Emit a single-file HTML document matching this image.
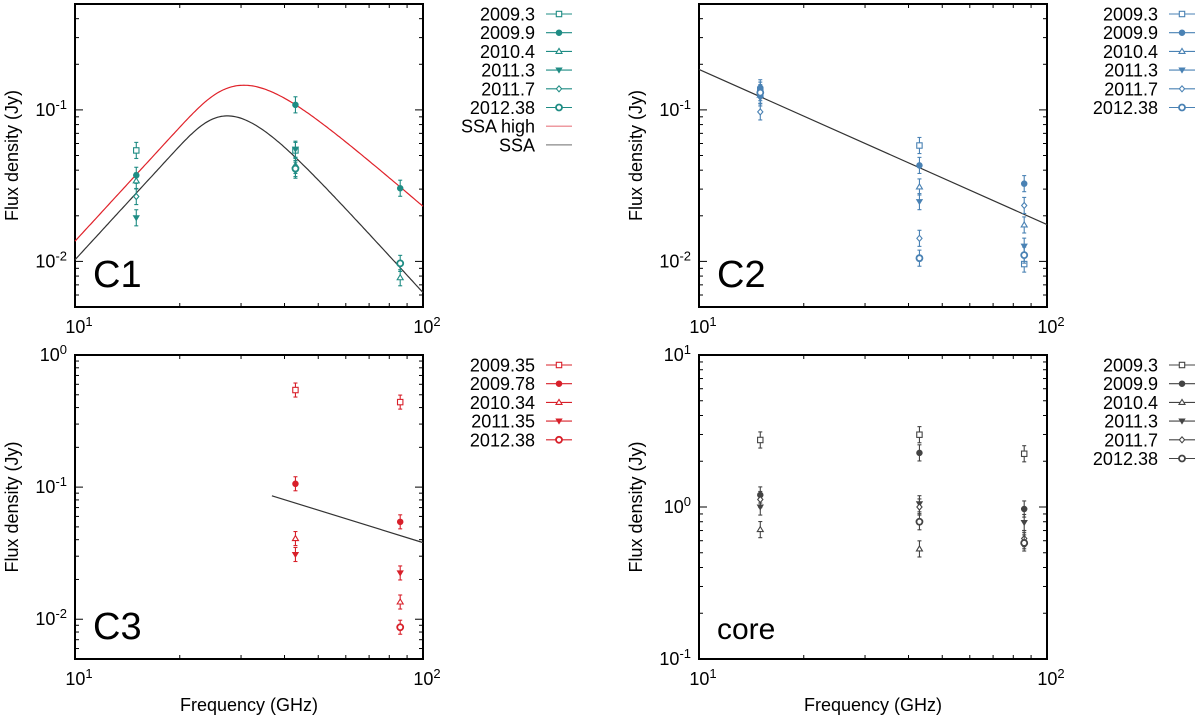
<!DOCTYPE html>
<html><head><meta charset="utf-8"><style>
html,body{margin:0;padding:0;background:#fff;}
svg{display:block;font-family:"Liberation Sans",sans-serif;}
</style></head><body>
<svg id="chart" width="1200" height="720" viewBox="0 0 1200 720" xmlns="http://www.w3.org/2000/svg"></svg>
<script>
// ---- data ----
const freqs = [15, 43, 86];
const c1Labels = ["2009.3","2009.9","2010.4","2011.3","2011.7","2012.38"];
const c1_2009_3 = [0.054, 0.054, null];
const c1_2009_9 = [0.037, 0.108, 0.0304];
const c1_2010_4 = [0.034, 0.043, 0.0078];
const c1_2011_3 = [0.0194, 0.055, null];
const c1_2011_7 = [0.0268, 0.040, null];
const c1_2012_38 = [null, 0.041, 0.0097];
const ssaHighParams = [0.23, 31, -1.96];
const ssaParams = [0.143, 28.7, -2.51];

const c2Labels = ["2009.3","2009.9","2010.4","2011.3","2011.7","2012.38"];
const c2_2009_3 = [0.135, 0.0582, 0.0096];
const c2_2009_9 = [0.140, 0.043, 0.0326];
const c2_2010_4 = [0.125, 0.031, 0.0174];
const c2_2011_3 = [0.120, 0.0248, 0.0126];
const c2_2011_7 = [0.097, 0.0142, 0.0234];
const c2_2012_38 = [0.130, 0.0105, 0.011];
const c2LineFreq = [10, 100];
const c2LineFlux = [0.185, 0.0175];

const c3Labels = ["2009.35","2009.78","2010.34","2011.35","2012.38"];
const c3_2009_35 = [null, 0.543, 0.44];
const c3_2009_78 = [null, 0.106, 0.0546];
const c3_2010_34 = [null, 0.0408, 0.0135];
const c3_2011_35 = [null, 0.0309, 0.0224];
const c3_2012_38 = [null, null, 0.0087];
const c3LineFreq = [36.8, 100];
const c3LineFlux = [0.086, 0.038];

const coreLabels = ["2009.3","2009.9","2010.4","2011.3","2011.7","2012.38"];
const core_2009_3 = [2.76, 2.99, 2.24];
const core_2009_9 = [1.2, 2.27, 0.97];
const core_2010_4 = [0.71, 0.53, 0.60];
const core_2011_3 = [1.0, 1.05, 0.79];
const core_2011_7 = [1.12, 1.0, 0.62];
const core_2012_38 = [null, 0.80, 0.58];

const NS="http://www.w3.org/2000/svg";
const svg=document.getElementById('chart');
function el(tag,attrs,parent){const e=document.createElementNS(NS,tag);for(const k in attrs)e.setAttribute(k,attrs[k]);(parent||svg).appendChild(e);return e;}
const L=Math.log10;

function panel(cfg){
  const g=el('g',{});
  
  
  const {x0,x1,y0,y1,ymin,ymax}=cfg;
  const X=f=>x0+(L(f)-1)/(1)*(x1-x0);
  const Y=v=>y1-(L(v)-L(ymin))/(L(ymax)-L(ymin))*(y1-y0);
  const tg=el('g',{stroke:'#000','stroke-width':1},g);
  for(let d=10;d<=100;d*=10){for(let m=1;m<10;m++){const f=d*m;if(f<10||f>100)continue;const len=(m===1)?8:4;const x=X(f);
    el('line',{x1:x,y1:y1,x2:x,y2:y1-len},tg);el('line',{x1:x,y1:y0,x2:x,y2:y0+len},tg);}}
  for(let e=Math.floor(L(ymin));e<=Math.ceil(L(ymax));e++){for(let m=1;m<10;m++){const v=m*Math.pow(10,e);if(v<ymin*0.999||v>ymax*1.001)continue;const len=(m===1)?8:4;const y=Y(v);
    el('line',{x1:x0,y1:y,x2:x0+len,y2:y},tg);el('line',{x1:x1,y1:y,x2:x1-len,y2:y},tg);}
    const v=Math.pow(10,e);if(v>=ymin*0.999&&v<=ymax*1.001){const t=el('text',{x:x0-8,y:Y(v)+6,'font-size':18,'text-anchor':'end'},g);
      
      t.innerHTML='10<tspan dy="-7" font-size="13">'+e+'</tspan>';}}
  [[10,1],[100,2]].forEach(([f,e])=>{const t=el('text',{x:X(f)+4,y:y1+26,'font-size':18,'text-anchor':'middle'},g);
    
    t.innerHTML='10<tspan dy="-7" font-size="13">'+e+'</tspan>';});
  const fr=el('rect',{x:x0,y:y0,width:x1-x0,height:y1-y0,fill:'none',stroke:'#000','stroke-width':2},g);
  
  const yl=el('text',{transform:`translate(${x0-57},${(y0+y1)/2}) rotate(-90)`,'font-size':18,'text-anchor':'middle'},g);
  yl.textContent='Flux density (Jy)';
  if(cfg.xtitle){const xl=el('text',{x:(x0+x1)/2,y:711,'font-size':18,'text-anchor':'middle'},g);
    xl.textContent='Frequency (GHz)';}
  const pl=el('text',{x:x0+18,y:y1-20,'font-size':cfg.lblSize||38},g);pl.textContent=cfg.label;
  
  (cfg.curves||[]).forEach(c=>{let d='';
    if(c.params){const [A,n1,a]=c.params;for(let i=0;i<=200;i++){const f=Math.pow(10,1+i/200);const x=f/n1;const s=A*Math.pow(x,2.5)*(1-Math.exp(-Math.pow(x,a-2.5)));d+=(i?'L':'M')+X(f).toFixed(1)+','+Y(s).toFixed(1);}}
    else{c.fx.forEach((f,i)=>{d+=(i?'L':'M')+X(f)+','+Y(c.fy[i]);});}
    const p=el('path',{d:d,fill:'none',stroke:c.color,'stroke-width':1.2},g);
    });
  cfg.series.forEach((s,si)=>{const sg=el('g',{stroke:cfg.color,fill:'none','stroke-width':1.1},g);
    
    s.forEach((v,i)=>{if(v==null)return;const x=X(freqs[i]),y=Y(v);
      el('line',{x1:x,y1:Y(v*1.13),x2:x,y2:Y(v/1.13)},sg);
      el('line',{x1:x-2,y1:Y(v*1.13),x2:x+2,y2:Y(v*1.13)},sg);
      el('line',{x1:x-2,y1:Y(v/1.13),x2:x+2,y2:Y(v/1.13)},sg);
      marker(sg,cfg.markers[si],x,y,cfg.color);});});
  cfg.labels.concat((cfg.extra||[]).map(e=>e[0])).forEach((lab,i)=>{const ly=cfg.ly+i*18.7;
    const lg=el('g',{},g);
    const t=el('text',{x:cfg.lx,y:ly+6.5,'font-size':18,'text-anchor':'end'},lg);t.textContent=lab;
    if(i<cfg.labels.length){el('line',{x1:cfg.lx+11,y1:ly,x2:cfg.lx+37,y2:ly,stroke:cfg.color,'stroke-width':1.1},lg);
      const mg=el('g',{stroke:cfg.color,fill:'none','stroke-width':1.1},lg);marker(mg,cfg.markers[i],cfg.lx+24,ly,cfg.color);}
    else{el('line',{x1:cfg.lx+11,y1:ly,x2:cfg.lx+37,y2:ly,stroke:cfg.extra[i-cfg.labels.length][1],'stroke-width':1.2},lg);}});
}
function marker(g,m,x,y,c){
  if(m==='sq')el('rect',{x:x-2.7,y:y-2.7,width:5.4,height:5.4,fill:'#fff'},g);
  else if(m==='dot')el('circle',{cx:x,cy:y,r:2.7,fill:c},g);
  else if(m==='tri')el('path',{d:`M${x},${y-3}L${x+3},${y+2}L${x-3},${y+2}Z`,fill:'#fff'},g);
  else if(m==='dtri')el('path',{d:`M${x},${y+2.5}L${x+2.7},${y-2}L${x-2.7},${y-2}Z`,fill:c},g);
  else if(m==='dia')el('path',{d:`M${x},${y-3}L${x+2.6},${y}L${x},${y+3}L${x-2.6},${y}Z`,fill:'#fff'},g);
  else if(m==='circ')el('circle',{cx:x,cy:y,r:3,fill:'#fff','stroke-width':1.8},g);
}
const M6=['sq','dot','tri','dtri','dia','circ'];
panel({name:'c1',label:'C1',x0:75,x1:423,y0:4,y1:307,ymin:0.005,ymax:0.5,color:'#1f8c84',
  series:[c1_2009_3,c1_2009_9,c1_2010_4,c1_2011_3,c1_2011_7,c1_2012_38],labels:c1Labels,markers:M6,
  curves:[{name:'ssa-high-curve',params:ssaHighParams,color:'#e0222a'},{name:'ssa-curve',params:ssaParams,color:'#333'}],
  extra:[['SSA high','#e87880'],['SSA','#888']],lx:535,ly:14});
panel({name:'c2',label:'C2',x0:699,x1:1047,y0:4,y1:307,ymin:0.005,ymax:0.5,color:'#4a82b4',
  series:[c2_2009_3,c2_2009_9,c2_2010_4,c2_2011_3,c2_2011_7,c2_2012_38],labels:c2Labels,markers:M6,
  curves:[{name:'power-law-fit',fx:c2LineFreq,fy:c2LineFlux,color:'#333'}],lx:1158,ly:14});
panel({name:'c3',label:'C3',x0:75,x1:423,y0:355,y1:659,ymin:0.005,ymax:1,color:'#d8202a',xtitle:true,
  series:[c3_2009_35,c3_2009_78,c3_2010_34,c3_2011_35,c3_2012_38],labels:c3Labels,markers:['sq','dot','tri','dtri','circ'],
  curves:[{name:'power-law-fit',fx:c3LineFreq,fy:c3LineFlux,color:'#333'}],lx:535,ly:365});
panel({name:'core',label:'core',lblSize:30,x0:699,x1:1047,y0:355,y1:659,ymin:0.1,ymax:10,color:'#444',xtitle:true,
  series:[core_2009_3,core_2009_9,core_2010_4,core_2011_3,core_2011_7,core_2012_38],labels:coreLabels,markers:M6,
  lx:1158,ly:365});
</script>
</body></html>
